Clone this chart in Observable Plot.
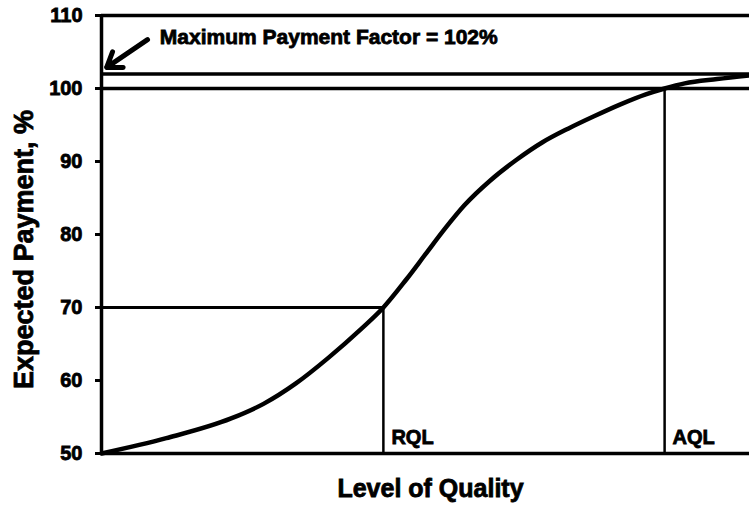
<!DOCTYPE html>
<html>
<head>
<meta charset="utf-8">
<script src="https://cdn.jsdelivr.net/npm/d3@7"></script>
<script src="https://cdn.jsdelivr.net/npm/@observablehq/plot@0.6"></script>
<style>
  html, body { margin: 0; padding: 0; background: #fff; }
  svg text { stroke: #000; stroke-width: 0.8px; }
</style>
</head>
<body>
<div id="chart"></div>
<script>
// Level of quality (arbitrary 0-100 scale) and expected payment (%)
const qualityX = [0, 10, 20, 25, 30, 35, 40, 43.5, 47, 50, 53, 56, 60, 64, 68, 72, 76, 80, 84, 86.9, 90, 95, 100];
const paymentY = [50, 52.1, 54.8, 56.8, 59.6, 63.1, 67.0, 70.0, 73.8, 77.3, 80.8, 84.0, 87.4, 90.2, 92.6, 94.5, 96.2, 97.8, 99.2, 100.0, 100.7, 101.3, 101.8];
const yTicks = [50, 60, 70, 80, 90, 100, 110];
const levelLines = [50, 100, 102, 110];
const rqlX = 43.5, rqlY = 70;
const aqlX = 86.9, aqlY = 100;
const qualityLabels = ["RQL", "AQL"];
const maxFactorLabel = "Maximum Payment Factor = 102%";
const arrowFrom = {x: 7.1, y: 106.7};
const arrowTo = {x: 0.8, y: 102.9};

const curve = qualityX.map((x, i) => ({x, y: paymentY[i]}));
const labelRows = [{x: rqlX, label: qualityLabels[0]}, {x: aqlX, label: qualityLabels[1]}];
const font = "Liberation Sans, Arial, sans-serif";

const chart = Plot.plot({
  width: 749,
  height: 506,
  marginLeft: 101,
  marginRight: 0,
  marginTop: 15,
  marginBottom: 53,
  style: {fontFamily: font, background: "#fff", color: "#000"},
  x: {domain: [0, 100], axis: null},
  y: {domain: [50, 110], axis: null},
  marks: [
    Plot.ruleY(levelLines, {stroke: "#000", strokeWidth: 3.5}),
    Plot.ruleX([0], {y1: 50, y2: 110, stroke: "#000", strokeWidth: 3.5}),
    Plot.ruleY([rqlY], {x1: 0, x2: rqlX, stroke: "#000", strokeWidth: 3}),
    Plot.ruleX([rqlX], {y1: 50, y2: rqlY, stroke: "#000", strokeWidth: 2.5}),
    Plot.ruleX([aqlX], {y1: 50, y2: aqlY, stroke: "#000", strokeWidth: 2.5}),
    Plot.line(curve, {x: "x", y: "y", curve: "monotone-x", stroke: "#000", strokeWidth: 4.5}),
    Plot.axisY({ticks: yTicks, tickSize: 6, tickPadding: 13, strokeWidth: 3, fontSize: 20, fontWeight: "bold", label: null}),
    Plot.text(labelRows, {x: "x", y: 50, text: "label", dx: 8, dy: -10, textAnchor: "start", lineAnchor: "bottom", fontSize: 20, fontWeight: "bold", fill: "#000"}),
    Plot.arrow([arrowFrom], {x1: "x", y1: "y", x2: arrowTo.x, y2: arrowTo.y, stroke: "#000", strokeWidth: 5, headLength: 15, headAngle: 70}),
    Plot.text([maxFactorLabel], {x: 9, y: 107, text: d => d, textAnchor: "start", fontSize: 21, fontWeight: "bold", fill: "#000"}),
    Plot.text(["Expected Payment, %"], {frameAnchor: "left", dx: -77, dy: 15, rotate: -90, textAnchor: "middle", lineAnchor: "middle", fontSize: 27, fontWeight: "bold", fill: "#000"}),
    Plot.text(["Level of Quality"], {frameAnchor: "bottom", dx: 5, dy: 35, textAnchor: "middle", lineAnchor: "middle", fontSize: 25, fontWeight: "bold", fill: "#000"})
  ]
});
document.getElementById("chart").append(chart);
</script>
</body>
</html>
